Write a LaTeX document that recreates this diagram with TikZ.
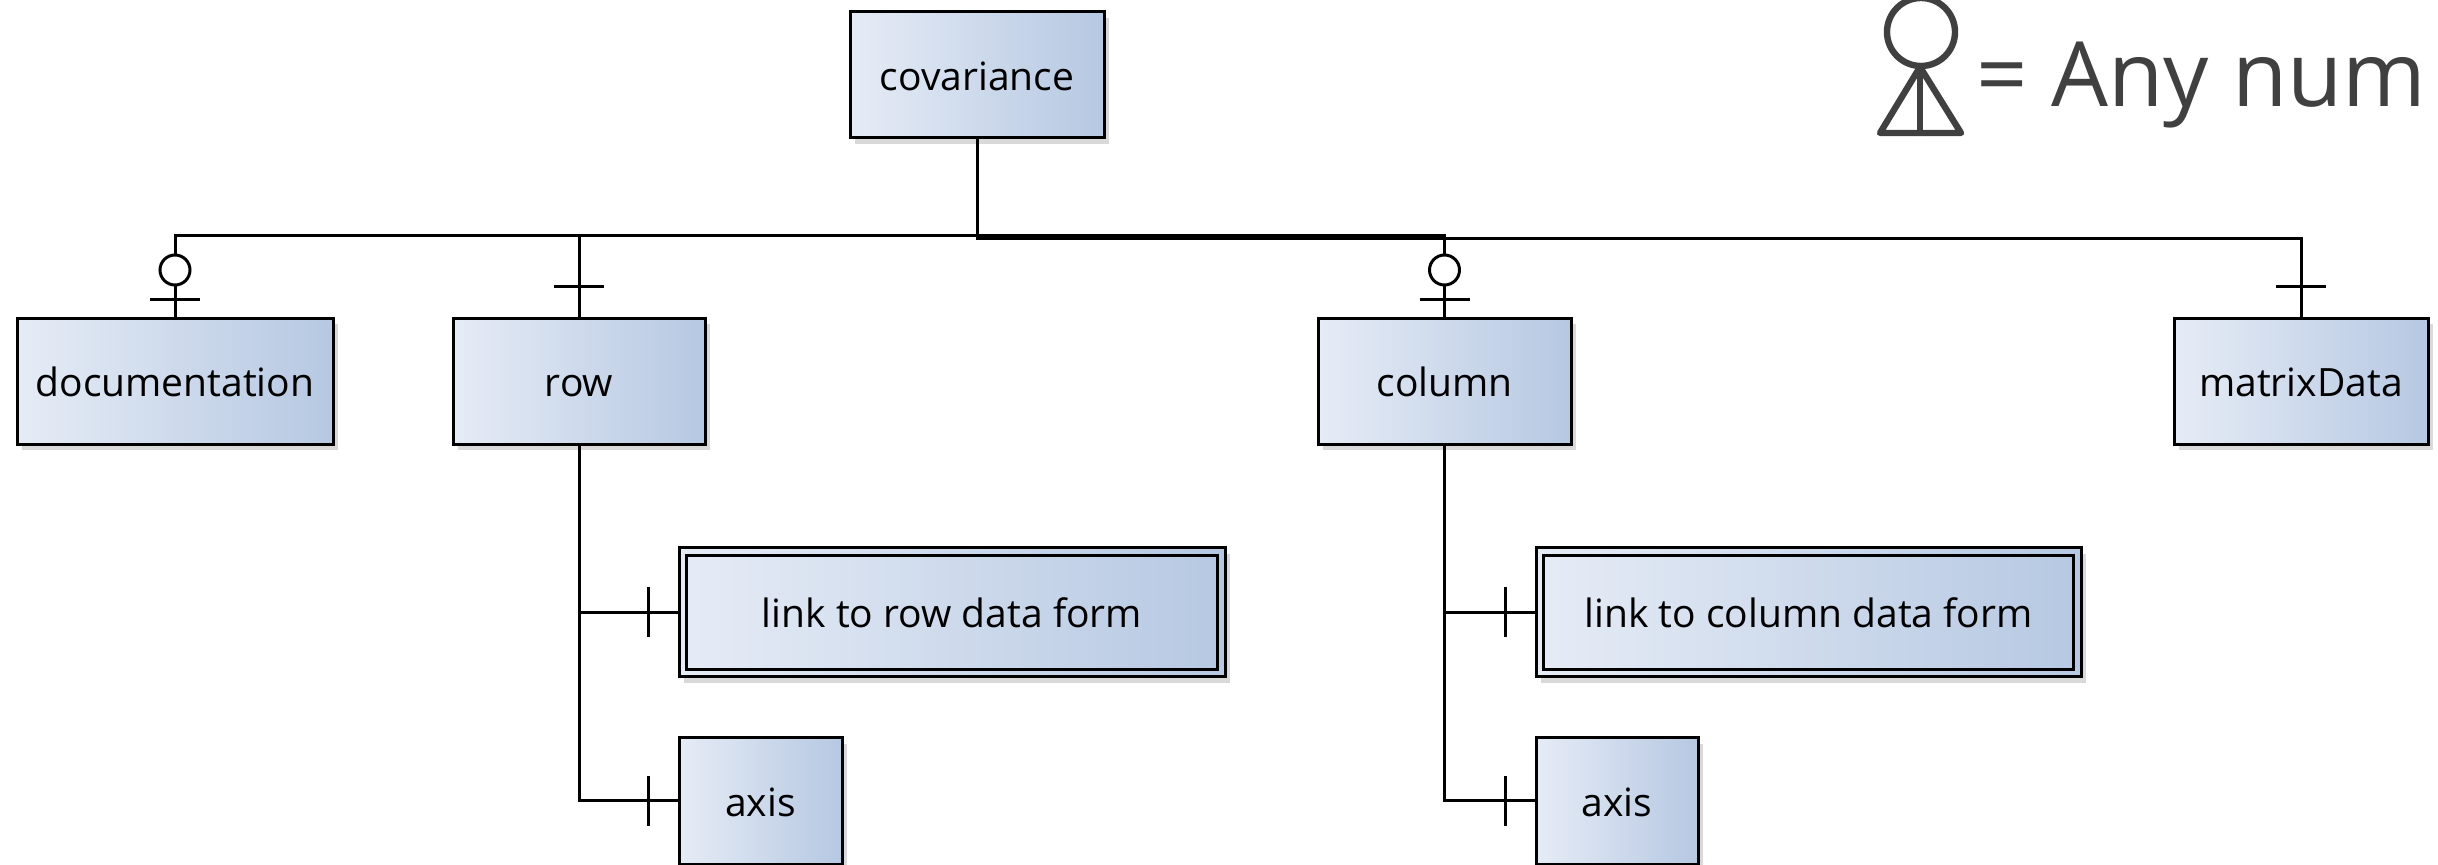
\documentclass[tikz,border=0pt]{standalone}
\usepackage{fontspec}
\setmainfont{Open Sans}
\usetikzlibrary{shadows,calc}
\definecolor{boxlight}{HTML}{E6ECF6}
\definecolor{boxdark}{HTML}{B6C8E2}
\definecolor{legendgray}{HTML}{404040}
\tikzset{
    entity/.style={rectangle,draw=black,line width=1.5pt,inner sep=0pt,
        minimum height=63pt,left color=boxlight,right color=boxdark,
        text height=18pt,text depth=2.5pt,
        drop shadow={shadow xshift=2.5pt,shadow yshift=-3pt,opacity=0.3},
        font=\fontsize{19.5}{23}\selectfont},
    link/.style={-,line width=1.5pt,draw=black},
    legendsym/.style={line width=3.2pt,draw=legendgray,line join=round,line cap=round},
    legendtext/.style={text=legendgray,inner sep=0pt,font=\fontsize{45}{54}\selectfont},
}
\begin{document}
\begin{tikzpicture}[x=0.5pt,y=-0.5pt]
\useasboundingbox (0,0) rectangle (2438,865);
\node[entity,minimum width=127pt] (cov) at (977,75) {covariance};
\node[entity,minimum width=158pt] (doc) at (175,381.5) {documentation};
\node[entity,minimum width=126pt] (row) at (579,381.5) {row};
\node[entity,minimum width=126.5pt] (col) at (1444.5,381.5) {column};
\node[entity,minimum width=127pt] (mat) at (2301,381.5) {matrixData};
\node[entity,minimum width=273pt,minimum height=64.5pt] (rl) at (952,612.5) {link to row data form};
\node[entity,minimum width=272.5pt,minimum height=64.5pt] (cl) at (1808.5,612.5) {link to column data form};
\node[entity,minimum width=81.5pt] (ra) at (760.5,801) {axis};
\node[entity,minimum width=81pt] (ca) at (1617,801) {axis};
% inner frames
\foreach \n in {rl,cl}
    \draw[link] ($(\n.north west)+(9,9)$) rectangle ($(\n.south east)+(-9,-9)$);
% connectors
\coordinate (busl) at (0,236);
\coordinate (busr) at (0,239);
\draw[link] (cov.south) -- (cov.south |- busl) -| (doc.north);
\draw[link] (cov.south |- busl) -| (row.north);
\draw[link] (cov.south |- busl) -| (col.north);
\draw[link] (cov.south) -- (cov.south |- busr) -| (mat.north);
\draw[link] (row.south) |- (rl.west);
\draw[link] (row.south) |- (ra.west);
\draw[link] (col.south) |- (cl.west);
\draw[link] (col.south) |- (ca.west);
% cardinality marks
\foreach \n in {row,mat}
    \draw[link] ($(\n.north)+(-25,-30)$) -- ++(50,0);
\foreach \n in {doc,col}{
    \draw[link] ($(\n.north)+(-25,-17)$) -- ++(50,0);
    \draw[link,fill=white] ($(\n.north)+(0,-47)$) circle [radius=7.5pt];
}
\foreach \n in {rl,ra,cl,ca}
    \draw[link] ($(\n.west)+(-29,-25)$) -- ++(0,50);
% legend
\draw[legendsym] (1921,32) circle [radius=17pt];
\draw[legendsym] (1920,67) -- (1880,133) -- (1961,133) -- cycle;
\draw[legendsym] (1920,67) -- (1920,133);
\node[legendtext,anchor=base west] (leg) at (1976,107) {= Any num};
\end{tikzpicture}
\end{document}
